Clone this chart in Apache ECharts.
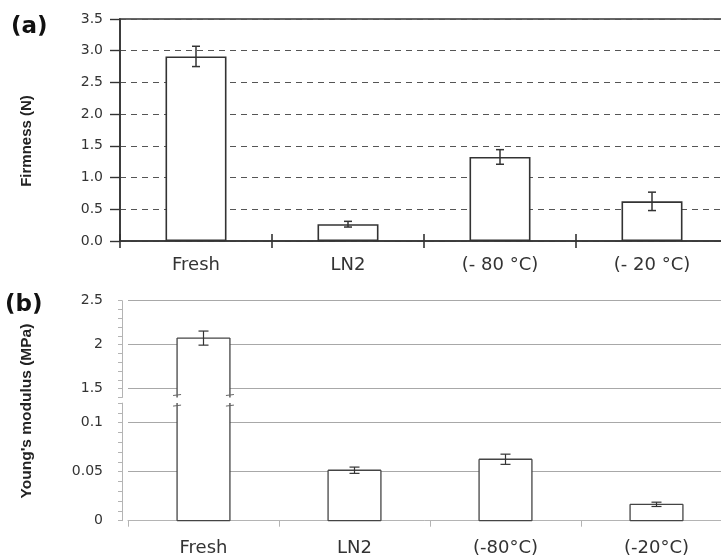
<!DOCTYPE html>
<html><head><meta charset="utf-8">
<script src="https://cdn.jsdelivr.net/npm/echarts@6/dist/echarts.min.js"></script>
<style>html,body{margin:0;padding:0;background:#fff}#c{width:721px;height:558px}</style>
</head><body><div id="c"></div>
<script>
// ---- data (a) ----
const catsA = ['Fresh', 'LN2', '(- 80 °C)', '(- 20 °C)'];
const firmness = [2.91, 0.265, 1.325, 0.625];
const firmnessErr = [0.16, 0.045, 0.115, 0.145];
const ticksA = [0, 0.5, 1.0, 1.5, 2.0, 2.5, 3.0, 3.5];
// ---- data (b) ----
const catsB = ['Fresh', 'LN2', '(-80°C)', '(-20°C)'];
const modulus = [2.075, 0.0515, 0.0627, 0.0167];
const modulusErr = [0.08, 0.0032, 0.0052, 0.0022];
const ticksBUpper = [1.5, 2, 2.5];
const ticksBLower = [0, 0.05, 0.1];

const FONT = 'DejaVu Sans';
const TXT = '#333';

function near(v, list) { return list.some(t => Math.abs(t - v) < 1e-6); }

function barItemFactory(ratio) {
  return function (params, api) {
    const i = api.value(0), v = api.value(1);
    const cs = params.coordSys;
    const top = api.coord([i, v]);
    const base = api.coord([i, 0]);
    const w = api.size([1, 0])[0] * ratio;
    const yT = Math.max(top[1], cs.y);
    const yB = Math.min(base[1], cs.y + cs.height);
    if (yB - yT < 0.5) return;
    const xl = top[0] - w / 2, xr = top[0] + w / 2;
    const openTop = top[1] < cs.y - 0.5, openBot = base[1] > cs.y + cs.height + 0.5;
    const ls = { stroke: '#444', lineWidth: 1.3 };
    const ch = [
      { type: 'rect', shape: { x: xl, y: yT, width: w, height: yB - yT }, style: { fill: '#fff' } },
      { type: 'line', shape: { x1: xl, y1: yT, x2: xl, y2: yB }, style: ls },
      { type: 'line', shape: { x1: xr, y1: yT, x2: xr, y2: yB }, style: ls }
    ];
    if (!openTop) ch.push({ type: 'line', shape: { x1: xl, y1: yT, x2: xr, y2: yT }, style: ls });
    if (!openBot) ch.push({ type: 'line', shape: { x1: xl, y1: yB, x2: xr, y2: yB }, style: ls });
    const bs = { stroke: '#666', lineWidth: 1 };
    if (openBot) {
      [xl, xr].forEach(x => ch.push({ type: 'line', shape: { x1: x - 4, y1: yB - 2, x2: x + 4, y2: yB - 3 }, style: bs }));
    }
    if (openTop) {
      [xl, xr].forEach(x => ch.push({ type: 'line', shape: { x1: x - 4, y1: yT + 3, x2: x + 4, y2: yT + 2 }, style: bs }));
    }
    return { type: 'group', children: ch };
  };
}

function errItemFactory(cap, color, lw) {
  return function (params, api) {
    const i = api.value(0), v = api.value(1), e = api.value(2);
    const cs = params.coordSys;
    const hi = api.coord([i, v + e]), lo = api.coord([i, v - e]);
    if (lo[1] < cs.y || hi[1] > cs.y + cs.height) return;
    const x = hi[0];
    const st = { stroke: color, lineWidth: lw };
    return {
      type: 'group', children: [
        { type: 'line', shape: { x1: x, y1: hi[1], x2: x, y2: lo[1] }, style: st },
        { type: 'line', shape: { x1: x - cap / 2, y1: hi[1], x2: x + cap / 2, y2: hi[1] }, style: st },
        { type: 'line', shape: { x1: x - cap / 2, y1: lo[1], x2: x + cap / 2, y2: lo[1] }, style: st }
      ]
    };
  };
}

const chart = echarts.init(document.getElementById('c'), null, { renderer: 'canvas' });

const gridLineB = { color: '#a8a8a8', width: 1, type: 'solid' };

const option = {
  animation: false,
  backgroundColor: '#fff',
  grid: [
    { left: 120, top: 19, width: 608, height: 222, outerBoundsMode: 'none', containLabel: false,
      show: true, borderColor: '#666', borderWidth: 2, backgroundColor: 'transparent' },
    { left: 128, top: 300.7, width: 604, height: 96.8, outerBoundsMode: 'none', containLabel: false },
    { left: 128, top: 403.1, width: 604, height: 117.6, outerBoundsMode: 'none', containLabel: false }
  ],
  xAxis: [
    { gridIndex: 0, type: 'category', data: catsA, position: 'bottom',
      axisLine: { lineStyle: { color: '#333', width: 1.6 } },
      axisTick: { show: true, length: 7, lineStyle: { color: '#333', width: 1.6 } },
      axisLabel: { fontFamily: FONT, fontSize: 18, color: TXT, margin: 15 } },
    { gridIndex: 0, type: 'category', data: catsA, position: 'bottom',
      axisLine: { show: false }, axisLabel: { show: false },
      axisTick: { show: true, inside: true, length: 7, lineStyle: { color: '#333', width: 1.6 } } },
    { gridIndex: 1, type: 'category', data: catsB, show: false },
    { gridIndex: 2, type: 'category', data: catsB, position: 'bottom',
      axisLine: { lineStyle: { color: '#b4b4b4', width: 1 } },
      axisTick: { show: true, length: 6, lineStyle: { color: '#b4b4b4' } },
      axisLabel: { fontFamily: FONT, fontSize: 18, color: TXT, margin: 19 } }
  ],
  yAxis: [
    { gridIndex: 0, type: 'value', min: 0, max: 3.5, interval: 0.5,
      axisLine: { show: true, lineStyle: { color: '#333', width: 1.6 } },
      axisTick: { show: true, length: 10, lineStyle: { color: '#333', width: 1.4 } },
      axisLabel: { fontFamily: FONT, fontSize: 14, color: TXT, margin: 17,
        formatter: v => near(v, ticksA) ? v.toFixed(1) : '' },
      splitLine: { show: true, lineStyle: { color: '#555', width: 1, type: [6, 5] } } },
    { gridIndex: 1, type: 'value', min: 1.4, max: 2.5, interval: 0.1, offset: 6,
      axisLine: { show: true, lineStyle: { color: '#b4b4b4', width: 1 } },
      axisTick: { show: true, length: 4, lineStyle: { color: '#b4b4b4' } },
      axisLabel: { fontFamily: FONT, fontSize: 14, color: TXT, margin: 19,
        formatter: v => near(v, ticksBUpper) ? String(+v.toFixed(1)) : '' },
      splitLine: { show: false } },
    { gridIndex: 2, type: 'value', min: 0, max: 0.12, interval: 0.01, offset: 6,
      axisLine: { show: true, lineStyle: { color: '#b4b4b4', width: 1 } },
      axisTick: { show: true, length: 4, lineStyle: { color: '#b4b4b4' } },
      axisLabel: { fontFamily: FONT, fontSize: 14, color: TXT, margin: 19,
        formatter: v => near(v, ticksBLower) ? String(+v.toFixed(2)) : '' },
      splitLine: { show: false } }
  ],
  graphic: [
    { type: 'text', left: 11, top: 16, style: { text: '(a)', font: 'bold 23px "DejaVu Sans"', fill: '#111' } },
    { type: 'text', left: 5, top: 294, style: { text: '(b)', font: 'bold 23px "DejaVu Sans"', fill: '#111' } },
    { type: 'text', x: 27, y: 141, rotation: Math.PI / 2,
      style: { text: 'Firmness (N)', font: 'bold 15px "Liberation Sans"', fill: '#222', align: 'center', verticalAlign: 'middle' } },
    { type: 'text', x: 27, y: 411, rotation: Math.PI / 2,
      style: { text: "Young's modulus (MPa)", font: 'bold 15.5px "Liberation Sans"', fill: '#222', align: 'center', verticalAlign: 'middle' } }
  ],
  series: [
    { type: 'bar', xAxisIndex: 0, yAxisIndex: 0, data: firmness, barWidth: 61,
      itemStyle: { color: '#fff', borderColor: '#333', borderWidth: 1.6 }, z: 3 },
    { type: 'custom', xAxisIndex: 0, yAxisIndex: 0, z: 4,
      renderItem: errItemFactory(8, '#333', 1.5),
      data: firmness.map((v, i) => [i, v, firmnessErr[i]]) },
    { type: 'custom', xAxisIndex: 2, yAxisIndex: 1, z: 3,
      renderItem: barItemFactory(0.35),
      data: modulus.map((v, i) => [i, v]),
      markLine: { silent: true, symbol: 'none', z: 1, label: { show: false }, lineStyle: gridLineB,
        data: ticksBUpper.map(v => ({ yAxis: v })) } },
    { type: 'custom', xAxisIndex: 2, yAxisIndex: 1, z: 4,
      renderItem: errItemFactory(10, '#333', 1.2),
      data: modulus.map((v, i) => [i, v, modulusErr[i]]) },
    { type: 'custom', xAxisIndex: 3, yAxisIndex: 2, z: 3,
      renderItem: barItemFactory(0.35),
      data: modulus.map((v, i) => [i, v]),
      markLine: { silent: true, symbol: 'none', z: 1, label: { show: false }, lineStyle: gridLineB,
        data: ticksBLower.filter(v => v > 0).map(v => ({ yAxis: v })) } },
    { type: 'custom', xAxisIndex: 3, yAxisIndex: 2, z: 4,
      renderItem: errItemFactory(10, '#333', 1.2),
      data: modulus.map((v, i) => [i, v, modulusErr[i]]) }
  ]
};
chart.setOption(option);
</script></body></html>
